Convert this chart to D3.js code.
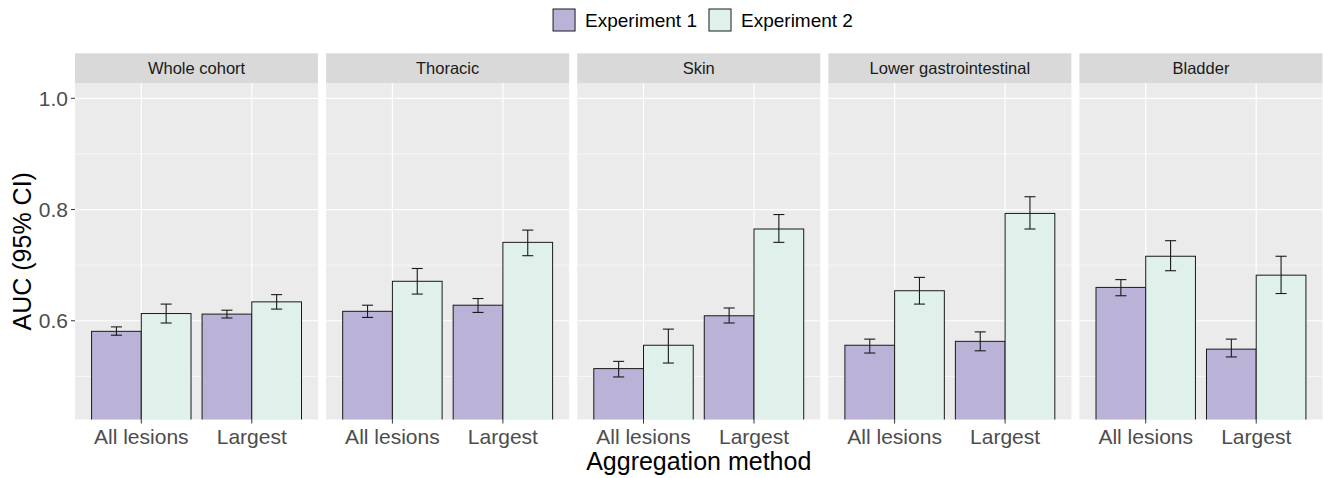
<!DOCTYPE html>
<html lang="en">
  <head>
    <meta charset='utf-8'>
    <script src='https://d3js.org/d3.v7.min.js'></script>
    <title>AUC by aggregation method</title>
    <style>
      body { margin: 0px; background: #fff; }
      text { font-family: 'Liberation Sans', Arial, sans-serif; }
      .tick-label { fill: #4d4d4d; font-size: 21px; }
      .strip-label { fill: #1a1a1a; font-size: 16.5px; }
      .axis-title { fill: #000; font-size: 25px; }
      .legend-label { fill: #000; font-size: 19px; }
    </style>
  </head>
  <body>
    <svg id='chart' width='1323' height='478'></svg>
    <script>
      // facets, categories and groups
      const panels = ['Whole cohort', 'Thoracic', 'Skin', 'Lower gastrointestinal', 'Bladder'];
      const methods = ['All lesions', 'Largest'];
      const experiments = ['Experiment 1', 'Experiment 2'];

      // AUC values per panel: [All lesions, Largest]
      const auc1 = [[0.581, 0.612], [0.617, 0.628], [0.514, 0.609], [0.556, 0.563], [0.660, 0.549]];
      const lo1  = [[0.574, 0.605], [0.606, 0.615], [0.499, 0.596], [0.542, 0.546], [0.645, 0.535]];
      const hi1  = [[0.589, 0.619], [0.628, 0.640], [0.527, 0.623], [0.567, 0.580], [0.674, 0.567]];
      const auc2 = [[0.613, 0.634], [0.671, 0.741], [0.556, 0.765], [0.654, 0.793], [0.716, 0.682]];
      const lo2  = [[0.596, 0.621], [0.648, 0.717], [0.524, 0.741], [0.630, 0.765], [0.690, 0.649]];
      const hi2  = [[0.630, 0.647], [0.694, 0.763], [0.585, 0.791], [0.678, 0.823], [0.744, 0.716]];

      const yTicks = [0.6, 0.8, 1.0];
      const yMinor = [0.5, 0.7, 0.9];
      const yLimits = [0.45, 1.0];
      const fills = ['#bab3d7', '#e0f1ec'];

      // long table built from the arrays
      const data = [];
      panels.forEach((p, i) => methods.forEach((m, j) => {
        data.push({panel: p, method: m, exp: experiments[0], auc: auc1[i][j], lo: lo1[i][j], hi: hi1[i][j]});
        data.push({panel: p, method: m, exp: experiments[1], auc: auc2[i][j], lo: lo2[i][j], hi: hi2[i][j]});
      }));

      const svg = d3.select('#chart');
      const plotLeft = 75, plotRight = 1322.5;
      const stripTop = 53.3, panelTop = 83, panelBottom = 419.5;

      const ext = (yLimits[1] - yLimits[0]) * 0.05;
      const yScale = d3.scaleLinear()
        .domain([yLimits[0] - ext, yLimits[1] + ext])
        .range([panelBottom, panelTop]);

      const panelScale = d3.scaleBand()
        .domain(panels)
        .range([plotLeft, plotRight])
        .paddingInner(0.032);
      const pw = panelScale.bandwidth();

      const xScale = d3.scalePoint().domain(methods).range([0, pw]).padding(0.6);
      const step = xScale.step();
      const dodge = d3.scaleBand().domain(experiments).range([-0.45 * step, 0.45 * step]);
      const fillScale = d3.scaleOrdinal().domain(experiments).range(fills);

      const defs = svg.append('defs');
      defs.append('clipPath').attr('id', 'panel-clip')
        .append('rect').attr('x', 0).attr('y', panelTop)
        .attr('width', pw).attr('height', panelBottom - panelTop);

      panels.forEach(p => {
        const g = svg.append('g').attr('transform', `translate(${panelScale(p)},0)`);

        // strip
        g.append('rect').attr('x', 0).attr('y', stripTop)
          .attr('width', pw).attr('height', panelTop - stripTop).attr('fill', '#d9d9d9');
        g.append('text').attr('class', 'strip-label')
          .attr('x', pw / 2).attr('y', (stripTop + panelTop) / 2 + 6)
          .attr('text-anchor', 'middle').text(p);

        // panel background and grid
        g.append('rect').attr('x', 0).attr('y', panelTop)
          .attr('width', pw).attr('height', panelBottom - panelTop).attr('fill', '#ebebeb');
        g.selectAll('.minor').data(yMinor).enter().append('line')
          .attr('x1', 0).attr('x2', pw)
          .attr('y1', d => yScale(d)).attr('y2', d => yScale(d))
          .attr('stroke', '#fff').attr('stroke-width', 0.6);
        g.selectAll('.major').data(yTicks).enter().append('line')
          .attr('x1', 0).attr('x2', pw)
          .attr('y1', d => yScale(d)).attr('y2', d => yScale(d))
          .attr('stroke', '#fff').attr('stroke-width', 1.2);
        g.selectAll('.vmajor').data(methods).enter().append('line')
          .attr('x1', d => xScale(d)).attr('x2', d => xScale(d))
          .attr('y1', panelTop).attr('y2', panelBottom)
          .attr('stroke', '#fff').attr('stroke-width', 1.2);

        const rows = data.filter(d => d.panel === p);
        const bars = g.append('g').attr('clip-path', 'url(#panel-clip)');

        bars.selectAll('rect').data(rows).enter().append('rect')
          .attr('x', d => xScale(d.method) + dodge(d.exp))
          .attr('width', dodge.bandwidth())
          .attr('y', d => yScale(d.auc))
          .attr('height', d => yScale(yScale.domain()[0]) - yScale(d.auc) + 2)
          .attr('fill', d => fillScale(d.exp))
          .attr('stroke', '#1a1a1a').attr('stroke-width', 1);

        // error bars
        const cap = 0.1 * step / 2;
        const eb = g.append('g').attr('stroke', '#1a1a1a').attr('stroke-width', 1.1).attr('fill', 'none');
        rows.forEach(d => {
          const cx = xScale(d.method) + dodge(d.exp) + dodge.bandwidth() / 2;
          eb.append('line').attr('x1', cx).attr('x2', cx).attr('y1', yScale(d.lo)).attr('y2', yScale(d.hi));
          eb.append('line').attr('x1', cx - cap).attr('x2', cx + cap).attr('y1', yScale(d.lo)).attr('y2', yScale(d.lo));
          eb.append('line').attr('x1', cx - cap).attr('x2', cx + cap).attr('y1', yScale(d.hi)).attr('y2', yScale(d.hi));
        });

        // x ticks
        g.selectAll('.xtick').data(methods).enter().append('line')
          .attr('x1', d => xScale(d)).attr('x2', d => xScale(d))
          .attr('y1', panelBottom).attr('y2', panelBottom + 4)
          .attr('stroke', '#333').attr('stroke-width', 1);
        g.selectAll('.xlab').data(methods).enter().append('text')
          .attr('class', 'tick-label')
          .attr('x', d => xScale(d)).attr('y', 444)
          .attr('text-anchor', 'middle').text(d => d);
      });

      // y axis
      const yAxisG = svg.append('g');
      yAxisG.selectAll('line').data(yTicks).enter().append('line')
        .attr('x1', plotLeft - 4).attr('x2', plotLeft)
        .attr('y1', d => yScale(d)).attr('y2', d => yScale(d))
        .attr('stroke', '#333').attr('stroke-width', 1);
      yAxisG.selectAll('text').data(yTicks).enter().append('text')
        .attr('class', 'tick-label')
        .attr('x', plotLeft - 7).attr('y', d => yScale(d) + 7.5)
        .attr('text-anchor', 'end').text(d3.format('.1f'));

      svg.append('text').attr('class', 'axis-title')
        .attr('transform', `translate(31,${(panelTop + panelBottom) / 2}) rotate(-90)`)
        .attr('text-anchor', 'middle').text('AUC (95% CI)');

      svg.append('text').attr('class', 'axis-title')
        .attr('x', (plotLeft + plotRight) / 2).attr('y', 470)
        .attr('text-anchor', 'middle').text('Aggregation method');

      // legend
      const legend = svg.append('g');
      let lx = 0;
      experiments.forEach(e => {
        legend.append('rect').attr('x', lx).attr('y', 9).attr('width', 22).attr('height', 22)
          .attr('fill', fillScale(e)).attr('stroke', '#1a1a1a').attr('stroke-width', 1);
        const t = legend.append('text').attr('class', 'legend-label')
          .attr('x', lx + 32).attr('y', 27).text(e);
        lx += 32 + t.node().getComputedTextLength() + 12;
      });
      const legendW = lx - 12;
      legend.attr('transform', `translate(${703 - legendW / 2},0)`);
    </script>
  </body>
</html>
